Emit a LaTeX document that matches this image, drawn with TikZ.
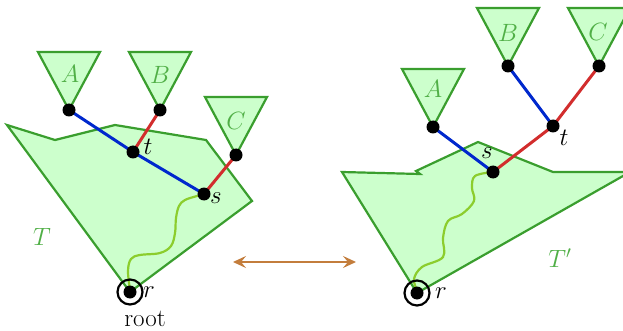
\RequirePackage{fix-cm}
\documentclass[tikz,border=0pt]{standalone}
\usetikzlibrary{arrows.meta}
\definecolor{gfill}{RGB}{204,255,204}
\definecolor{gline}{RGB}{58,158,46}
\definecolor{glabel}{RGB}{80,175,70}
\definecolor{eblue}{RGB}{0,40,205}
\definecolor{ered}{RGB}{210,45,45}
\definecolor{wig}{RGB}{140,205,45}
\definecolor{arrc}{RGB}{195,125,60}
\begin{document}
\begin{tikzpicture}[x=1pt,y=-1pt,font=\fontsize{25}{30}\selectfont,
  region/.style={draw=gline,fill=gfill,line width=2.2pt,line join=miter},
  subtri/.pic={\draw[region] (-31,-58) -- (31,-58) -- (0,0) -- cycle;},
  dotn/.style={circle,fill=black,inner sep=0pt,minimum size=13pt},
  gl/.style={text=glabel,inner sep=0pt},
  bl/.style={inner sep=0pt},
  blueedge/.style={draw=eblue,line width=3pt},
  rededge/.style={draw=ered,line width=3pt},
  wiggle/.style={draw=wig,line width=2.2pt},
  rootring/.style={circle,draw=black,line width=2.2pt,inner sep=0pt,minimum size=25pt}]
\useasboundingbox (0,0) rectangle (623,331);
% ---------- left tree ----------
\draw[region] (7,125) -- (55,140) -- (115,125) -- (206,140) -- (252,201) -- (130,292) -- cycle;
\pic at (69,110) {subtri};
\pic at (160,110) {subtri};
\pic at (236,155) {subtri};
\node[gl] (LA) at (70,74) {$A$};
\node[gl] (LB) at (160,75) {$B$};
\node[gl] (LC) at (236,121) {$C$};
\node[gl] (LT) at (42,237) {$T$};
\coordinate (a1) at (69,110);
\coordinate (b1) at (160,110);
\coordinate (c1) at (236,155);
\coordinate (t1) at (133,152);
\coordinate (s1) at (204,194);
\coordinate (r1) at (130,292);
\draw[blueedge] (a1) -- (t1) -- (s1);
\draw[rededge] (b1) -- (t1);
\draw[rededge] (c1) -- (s1);
\draw[wiggle] plot[smooth,tension=0.6] coordinates {(s1) (197,196) (185,200) (179,206) (176,218) (175,233) (171,246) (160,253) (140,255) (131,259) (128,271) (130,290)};
\node[rootring] (R1) at (r1) {};
\foreach \p in {a1,b1,c1,t1,s1,r1} \node[dotn] (d\p) at (\p) {};
\node[bl] (lt) at (148,147) {$t$};
\node[bl] (ls) at (216,198) {$s$};
\node[bl] (lr) at (149,292) {$r$};
\node[bl] (lroot) at (145,319) {root};
% ---------- arrow ----------
\coordinate (arrL) at (233,262);
\coordinate (arrR) at (356,262);
\draw[arrc,line width=2.5pt,{Stealth[length=13pt,width=12pt,inset=5pt]}-{Stealth[length=13pt,width=12pt,inset=5pt]}] (arrL) -- (arrR);
% ---------- right tree ----------
\draw[region] (342,172) -- (420,174) -- (416,171) -- (478,142) -- (553,172) -- (630,172) -- (417,293) -- cycle;
\pic at (433,127) {subtri};
\pic at (508,66) {subtri};
\pic at (599,66) {subtri};
\node[gl] (RA) at (433,89) {$A$};
\node[gl] (RB) at (508,33) {$B$};
\node[gl] (RC) at (598,32) {$C$};
\node[gl] (RT) at (560,258) {$T'$};
\coordinate (a2) at (433,127);
\coordinate (b2) at (508,66);
\coordinate (c2) at (599,66);
\coordinate (t2) at (553,126);
\coordinate (s2) at (493,172);
\coordinate (r2) at (417,293);
\draw[blueedge] (a2) -- (s2);
\draw[blueedge] (b2) -- (t2);
\draw[rededge] (c2) -- (t2) -- (s2);
\draw[wiggle] plot[smooth,tension=0.6] coordinates {(s2) (475,176) (472,188) (474,201) (462,214) (448,221) (443,238) (443,257) (422,267) (414,279) (417,290)};
\node[rootring] (R2) at (r2) {};
\foreach \p in {a2,b2,c2,t2,s2,r2} \node[dotn] (d\p) at (\p) {};
\node[bl] (rt) at (564,138) {$t$};
\node[bl] (rs) at (487,153) {$s$};
\node[bl] (rr) at (441,293) {$r$};
\end{tikzpicture}
\end{document}
